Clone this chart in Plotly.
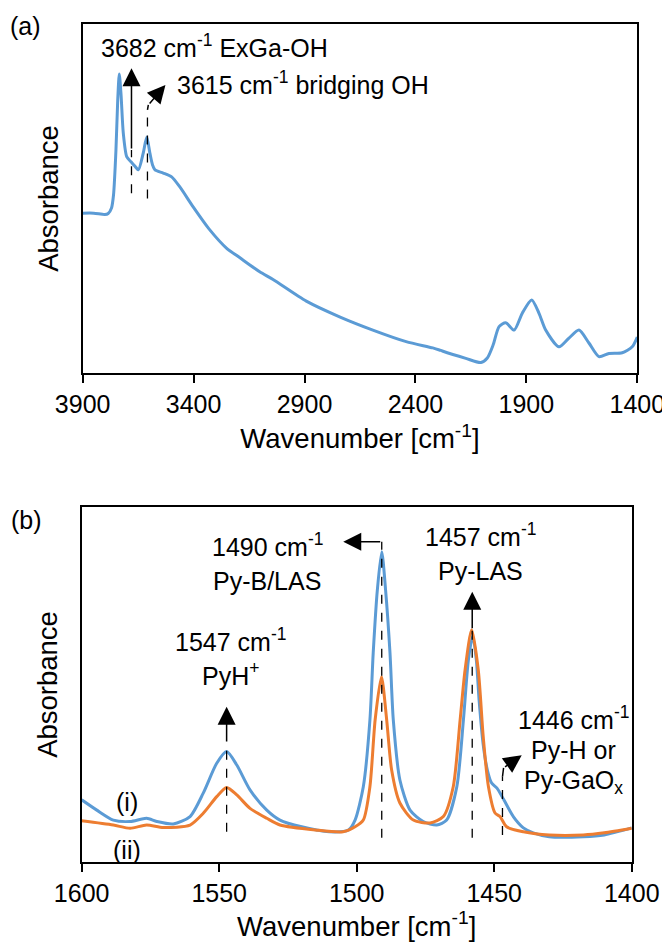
import plotly.graph_objects as go

# ---------------- Panel (a) data ----------------
wn_a = [3900, 3850, 3800, 3785, 3770, 3761, 3750, 3742, 3735, 3727, 3717, 3701, 3682, 3665,
        3649, 3627, 3611, 3597, 3585, 3574, 3537, 3499, 3462, 3402, 3327, 3252, 3191, 3102,
        3042, 2892, 2742, 2592, 2442, 2322, 2292, 2279, 2173, 2105, 2076, 2050, 2023, 1993,
        1955, 1918, 1876, 1843, 1813, 1753, 1708, 1663, 1618, 1573, 1528, 1468, 1423, 1400]
abs_a = [0.458, 0.458, 0.454, 0.457, 0.473, 0.510, 0.639, 0.782, 0.857, 0.797, 0.688, 0.619,
         0.605, 0.593, 0.582, 0.630, 0.676, 0.630, 0.596, 0.582, 0.573, 0.562, 0.533, 0.476,
         0.410, 0.358, 0.330, 0.290, 0.268, 0.206, 0.161, 0.123, 0.090, 0.072, 0.066, 0.063,
         0.042, 0.030, 0.043, 0.080, 0.133, 0.144, 0.123, 0.172, 0.209, 0.171, 0.123, 0.075,
         0.100, 0.123, 0.086, 0.047, 0.056, 0.058, 0.075, 0.103]
ticks_a = [3900, 3400, 2900, 2400, 1900, 1400]

# ---------------- Panel (b) data ----------------
wn_b_i = [1600, 1594.5, 1588.5, 1582.4, 1576.4, 1572.7, 1566.7, 1560.6, 1555.8, 1550.9, 1547.3,
          1543.6, 1538.8, 1532.7, 1527.9, 1520, 1510, 1503, 1500.6, 1497.6, 1495.2, 1494,
          1492.5, 1490.9, 1489.5, 1487.9, 1486.7, 1484.3, 1480.6, 1475.8, 1470.9, 1467.3,
          1463.6, 1461.2, 1459.4, 1457.8, 1456.5, 1455.5, 1454, 1452.5, 1451, 1449, 1446.5,
          1443, 1439.4, 1435.8, 1430, 1417.6, 1410, 1400]
abs_b_i = [0.175, 0.146, 0.118, 0.114, 0.123, 0.114, 0.107, 0.128, 0.194, 0.278, 0.311,
           0.273, 0.203, 0.146, 0.118, 0.099, 0.085, 0.090, 0.118, 0.212, 0.400, 0.589,
           0.766, 0.874, 0.766, 0.589, 0.400, 0.231, 0.146, 0.114, 0.104, 0.118,
           0.212, 0.400, 0.569, 0.637, 0.569, 0.456, 0.330, 0.259, 0.223, 0.208, 0.175,
           0.127, 0.096, 0.082, 0.071, 0.071, 0.076, 0.096]
wn_b_ii = [1600, 1588.5, 1582.4, 1576.4, 1570.3, 1560.6, 1555.8, 1550.9, 1547.3, 1543.6,
           1538.8, 1532.7, 1527.9, 1515, 1505, 1500.6, 1497.6, 1495.2, 1493.3, 1491, 1489.1,
           1487.3, 1484.3, 1479.4, 1473.3, 1468.5, 1464.9, 1462.4, 1460.6, 1458.2, 1455.8,
           1454, 1452.1, 1449.7, 1447.9, 1445.5, 1439.4, 1430, 1417.6, 1410, 1400]
abs_b_ii = [0.116, 0.104, 0.095, 0.104, 0.097, 0.104, 0.137, 0.184, 0.210, 0.189,
            0.151, 0.123, 0.104, 0.090, 0.085, 0.099, 0.118, 0.212, 0.400, 0.522, 0.400,
            0.259, 0.166, 0.118, 0.110, 0.128, 0.212, 0.400, 0.541, 0.654, 0.541,
            0.353, 0.212, 0.138, 0.128, 0.099, 0.085, 0.076, 0.076, 0.082, 0.095]
ticks_b = [1600, 1550, 1500, 1450, 1400]

BLUE = "#5B9BD5"
ORANGE = "#ED7D31"
FONT = "Liberation Sans, Arial, sans-serif"
FS = 25
FT = 27.5

# the page body has an 8px margin: size the figure to fill the rest of the window
W, H = 662, 934

fig = go.Figure()
fig.add_trace(go.Scatter(x=wn_a, y=abs_a, mode="lines", xaxis="x", yaxis="y",
                         line=dict(color=BLUE, width=3, shape="spline", smoothing=0.7),
                         showlegend=False, hoverinfo="skip"))
fig.add_trace(go.Scatter(x=wn_b_i, y=abs_b_i, mode="lines", xaxis="x2", yaxis="y2",
                         line=dict(color=BLUE, width=3, shape="spline", smoothing=0.7),
                         showlegend=False, hoverinfo="skip"))
fig.add_trace(go.Scatter(x=wn_b_ii, y=abs_b_ii, mode="lines", xaxis="x2", yaxis="y2",
                         line=dict(color=ORANGE, width=3, shape="spline", smoothing=0.7),
                         showlegend=False, hoverinfo="skip"))

axis_common = dict(showline=True, linecolor="black", linewidth=2, mirror=True,
                   showgrid=False, zeroline=False, automargin=False)
title_sup = "Wavenumber [cm<sup>-1</sup>]"

fig.update_layout(
    width=W, height=H,
    margin=dict(l=0, r=0, t=0, b=0),
    paper_bgcolor="white", plot_bgcolor="white",
    font=dict(family=FONT, size=FS, color="black"),
    xaxis=dict(domain=[0.1128, 0.9506], anchor="y", range=[3900, 1400], tickvals=ticks_a,
               ticks="outside", ticklen=8, tickwidth=2, tickcolor="black",
               ticklabeloverflow="allow",
               tickfont=dict(size=FS), title=dict(text=title_sup, standoff=12,
                                                  font=dict(size=FT)), **axis_common),
    yaxis=dict(domain=[0.6092, 0.9829], anchor="x", range=[0, 1], showticklabels=False,
               ticks="", title=dict(text="Absorbance", standoff=14, font=dict(size=FT)),
               **axis_common),
    xaxis2=dict(domain=[0.1113, 0.9422], anchor="y2", range=[1600, 1400], tickvals=ticks_b,
                ticks="outside", ticklen=8, tickwidth=2, tickcolor="black",
                ticklabeloverflow="allow",
                tickfont=dict(size=FS), title=dict(text=title_sup, standoff=12,
                                                   font=dict(size=FT)), **axis_common),
    yaxis2=dict(domain=[0.0857, 0.4657], anchor="x2", range=[0, 1], showticklabels=False,
                ticks="", title=dict(text="Absorbance", standoff=14, font=dict(size=FT)),
                **axis_common),
)

shapes = []
annotations = []


def dashed(xr, yr, x, y0, y1):
    shapes.append(dict(type="line", xref=xr, yref=yr, x0=x, x1=x, y0=y0, y1=y1,
                       line=dict(color="black", width=1.3, dash="dash")))


def solid(xr, yr, x0, y0, x1, y1):
    shapes.append(dict(type="line", xref=xr, yref=yr, x0=x0, x1=x1, y0=y0, y1=y1,
                       line=dict(color="black", width=1.5)))


def arrow(xr, yr, x_tail, y_tail, x_tip, y_tip):
    annotations.append(dict(xref=xr, yref=yr, axref=xr, ayref=yr, x=x_tip, y=y_tip,
                            ax=x_tail, ay=y_tail, text="", showarrow=True, arrowhead=2,
                            arrowsize=2.4, arrowwidth=1.5, arrowcolor="black",
                            standoff=0, startstandoff=0))


def label(xr, yr, x, y, text, xanchor="center"):
    annotations.append(dict(xref=xr, yref=yr, x=x, y=y, text=text, showarrow=False,
                            xanchor=xanchor, yanchor="middle",
                            font=dict(family=FONT, size=FS, color="black")))


# Panel (a) markers
dashed("x", "y", 3680, 0.515, 0.639)
arrow("x", "y", 3680, 0.639, 3680, 0.873)
dashed("x", "y", 3608, 0.500, 0.754)
solid("x", "y", 3608, 0.754, 3604, 0.768)
arrow("x", "y", 3604, 0.768, 3527, 0.825)
label("x", "y", 3827, 0.937, "3682 cm<sup>-1</sup> ExGa-OH", "left")
label("x", "y", 3485, 0.831, "3615 cm<sup>-1</sup> bridging OH", "left")

# Panel (b) markers
dashed("x2", "y2", 1547.3, 0.085, 0.335)
arrow("x2", "y2", 1547.3, 0.335, 1547.3, 0.437)
dashed("x2", "y2", 1490.9, 0.068, 0.902)
arrow("x2", "y2", 1490.9, 0.902, 1504.9, 0.902)
dashed("x2", "y2", 1458.0, 0.068, 0.654)
arrow("x2", "y2", 1458.0, 0.654, 1458.0, 0.761)
dashed("x2", "y2", 1447.0, 0.076, 0.240)
solid("x2", "y2", 1447.0, 0.240, 1446.6, 0.265)
arrow("x2", "y2", 1446.6, 0.265, 1440.0, 0.301)

label("x2", "y2", 1532.6, 0.892, "1490 cm<sup>-1</sup>")
label("x2", "y2", 1532.6, 0.792, "Py-B/LAS")
label("x2", "y2", 1455.1, 0.920, "1457 cm<sup>-1</sup>")
label("x2", "y2", 1455.1, 0.820, "Py-LAS")
label("x2", "y2", 1546.0, 0.625, "1547 cm<sup>-1</sup>")
label("x2", "y2", 1546.0, 0.530, "PyH<sup>+</sup>")
label("x2", "y2", 1421.3, 0.406, "1446 cm<sup>-1</sup>")
label("x2", "y2", 1421.3, 0.315, "Py-H or")
label("x2", "y2", 1421.3, 0.225, "Py-GaO<sub>x</sub>")
label("x2", "y2", 1583.7, 0.170, "(i)")
label("x2", "y2", 1583.7, 0.034, "(ii)")

# panel letters
annotations.append(dict(xref="paper", yref="paper", x=17 / W, y=1 - 18 / H, text="(a)",
                        showarrow=False, xanchor="center", yanchor="middle",
                        font=dict(family=FONT, size=FS, color="black")))
annotations.append(dict(xref="paper", yref="paper", x=18 / W, y=1 - 512 / H, text="(b)",
                        showarrow=False, xanchor="center", yanchor="middle",
                        font=dict(family=FONT, size=FS, color="black")))

fig.update_layout(shapes=shapes, annotations=annotations)
fig.write_html("out.html")
